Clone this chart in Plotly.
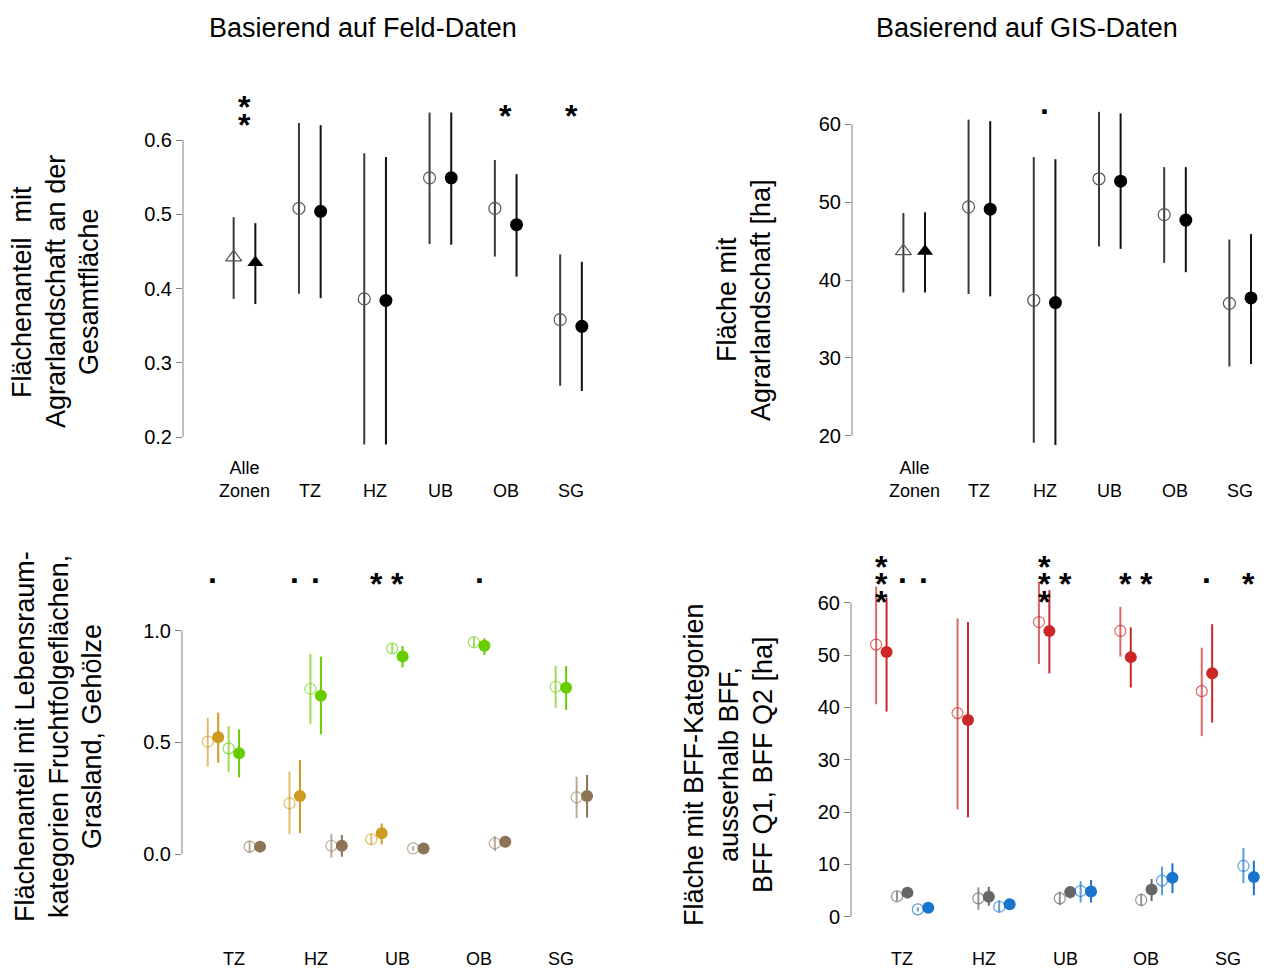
import plotly.graph_objects as go

# ---------------- data ----------------
zones_top = ["Alle<br>Zonen", "TZ", "HZ", "UB", "OB", "SG"]
zones_bot = ["TZ", "HZ", "UB", "OB", "SG"]

# top-left: Flächenanteil mit Agrarlandschaft (Feld-Daten)
feld_open_mean = [0.442, 0.508, 0.386, 0.549, 0.508, 0.358]
feld_open_lo = [0.386, 0.393, 0.190, 0.460, 0.443, 0.269]
feld_open_hi = [0.496, 0.623, 0.582, 0.637, 0.573, 0.446]
feld_fill_mean = [0.435, 0.504, 0.384, 0.549, 0.486, 0.349]
feld_fill_lo = [0.379, 0.387, 0.190, 0.459, 0.416, 0.262]
feld_fill_hi = [0.488, 0.620, 0.577, 0.637, 0.554, 0.436]
feld_sig = ["**", "", "", "", "*", "*"]

# top-right: Fläche mit Agrarlandschaft [ha] (GIS-Daten)
gis_open_mean = [43.7, 49.4, 37.4, 53.0, 48.4, 37.0]
gis_open_lo = [38.4, 38.2, 19.1, 44.3, 42.2, 28.9]
gis_open_hi = [48.6, 60.6, 55.8, 61.6, 54.5, 45.2]
gis_fill_mean = [43.7, 49.1, 37.1, 52.7, 47.7, 37.7]
gis_fill_lo = [38.4, 37.9, 18.8, 44.0, 41.0, 29.2]
gis_fill_hi = [48.7, 60.4, 55.5, 61.4, 54.5, 45.9]
gis_sig = ["", "", ".", "", "", ""]

# bottom-left: Fruchtfolgeflächen (orange), Grasland (green), Gehölze (brown)
ff_open_mean = [0.503, 0.227, 0.066, None, None]
ff_open_lo = [0.391, 0.088, 0.040, None, None]
ff_open_hi = [0.610, 0.369, 0.090, None, None]
ff_fill_mean = [0.523, 0.260, 0.093, None, None]
ff_fill_lo = [0.409, 0.093, 0.043, None, None]
ff_fill_hi = [0.633, 0.421, 0.137, None, None]
gr_open_mean = [0.473, 0.739, 0.921, 0.948, 0.749]
gr_open_lo = [0.367, 0.582, 0.900, 0.925, 0.655]
gr_open_hi = [0.573, 0.896, 0.942, 0.972, 0.842]
gr_fill_mean = [0.451, 0.709, 0.884, 0.933, 0.745]
gr_fill_lo = [0.343, 0.536, 0.836, 0.891, 0.645]
gr_fill_hi = [0.558, 0.884, 0.931, 0.966, 0.842]
gh_open_mean = [0.033, 0.037, 0.025, 0.048, 0.254]
gh_open_lo = [0.005, -0.016, 0.015, 0.013, 0.160]
gh_open_hi = [0.060, 0.090, 0.035, 0.080, 0.346]
gh_fill_mean = [0.033, 0.037, 0.025, 0.055, 0.260]
gh_fill_lo = [0.015, -0.012, 0.015, 0.030, 0.163]
gh_fill_hi = [0.050, 0.085, 0.035, 0.080, 0.354]
ff_sig = [".", ".", "*", "", ""]
gr_sig = ["", ".", "*", ".", ""]
gh_sig = ["", "", "", "", ""]

# bottom-right: ausserhalb BFF (red), BFF Q1 (gray), BFF Q2 (blue)
ab_open_mean = [52.0, 38.9, 56.3, 54.6, 43.1]
ab_open_lo = [40.6, 20.5, 48.3, 49.7, 34.5]
ab_open_hi = [63.1, 57.0, 64.0, 59.2, 51.4]
ab_fill_mean = [50.6, 37.6, 54.6, 49.6, 46.5]
ab_fill_lo = [39.2, 19.0, 46.5, 43.8, 37.1]
ab_fill_hi = [61.0, 56.3, 62.4, 55.3, 55.9]
q1_open_mean = [3.9, 3.5, 3.5, 3.2, None]
q1_open_lo = [3.0, 1.3, 2.2, 2.0, None]
q1_open_hi = [4.9, 5.6, 4.8, 4.4, None]
q1_fill_mean = [4.6, 3.8, 4.7, 5.2, None]
q1_fill_lo = [3.6, 2.1, 3.5, 3.0, None]
q1_fill_hi = [5.4, 5.7, 5.8, 7.2, None]
q2_open_mean = [1.4, 1.9, 4.9, 6.9, 9.7]
q2_open_lo = [1.0, 0.8, 2.7, 4.1, 6.4]
q2_open_hi = [1.8, 3.1, 6.8, 9.6, 13.1]
q2_fill_mean = [1.7, 2.4, 4.8, 7.45, 7.6]
q2_fill_lo = [1.2, 1.5, 2.7, 4.5, 4.1]
q2_fill_hi = [2.2, 3.2, 7.0, 10.2, 10.7]
ab_sig = ["***", "", "***", "*", "."]
q1_sig = [".", "", "*", "*", ""]
q2_sig = [".", "", "", "", "*"]

ticks_tl = [0.2, 0.3, 0.4, 0.5, 0.6]
ticks_tr = [20, 30, 40, 50, 60]
ticks_bl = [0.0, 0.5, 1.0]
ticks_br = [0, 10, 20, 30, 40, 50, 60]

# ---------------- layout helpers ----------------
W, H = 1280, 969
FONT = "Liberation Sans, Arial, sans-serif"
AXC = "#808080"


def xdom(a, b):
    return [a / W, b / W]


def ydom(top, bottom):
    return [1 - bottom / H, 1 - top / H]


def rng(p0, p1, ref_px, ref_val, px_per_unit, flip=False):
    if flip:  # y axis: pixel grows downward
        return [ref_val - (p1 - ref_px) / px_per_unit, ref_val + (ref_px - p0) / px_per_unit]
    return [ref_val + (p0 - ref_px) / px_per_unit, ref_val + (p1 - ref_px) / px_per_unit]


# panel geometry (pixels)
P = {
    1: dict(xd=(183, 600), yd=(95, 455), cx0=244.5, cdx=65.3, ya=(140, 0.6), ypu=(437 - 140) / 0.4),
    2: dict(xd=(852, 1270), yd=(95, 455), cx0=914.2, cdx=65.2, ya=(124.3, 60), ypu=(435.7 - 124.3) / 40),
    3: dict(xd=(182, 600), yd=(560, 940), cx0=233.9, cdx=81.75, ya=(854, 0.0), ypu=(854 - 630.7) / 1.0),
    4: dict(xd=(851, 1270), yd=(550, 940), cx0=902.2, cdx=81.4, ya=(916.7, 0), ypu=(916.7 - 602.7) / 60),
}

fig = go.Figure()


def add_series(panel, offset, mean, lo, hi, color, filled, symbol="circle", size=12, lcolor=None):
    xs, ys, ep, em = [], [], [], []
    for i, m in enumerate(mean):
        if m is None:
            continue
        xs.append(i + offset)
        ys.append(m)
        ep.append(hi[i] - m)
        em.append(m - lo[i])
    sym = symbol if filled else symbol + "-open"
    fig.add_trace(go.Scatter(
        x=xs, y=ys, mode="markers",
        xaxis="x" if panel == 1 else f"x{panel}",
        yaxis="y" if panel == 1 else f"y{panel}",
        marker=dict(symbol=sym, size=size, color=color,
                    line=dict(width=1.2 if not filled else 0, color=color)),
        error_y=dict(type="data", symmetric=False, array=ep, arrayminus=em,
                     width=0, thickness=2, color=lcolor or color),
        showlegend=False, hoverinfo="skip", cliponaxis=False,
    ))


# top panels
TOFF = 0.166
add_series(1, -TOFF, feld_open_mean[:1], feld_open_lo[:1], feld_open_hi[:1], "#555555", False, "triangle-up", 14, "#3a3a3a")
add_series(1, TOFF, feld_fill_mean[:1], feld_fill_lo[:1], feld_fill_hi[:1], "#000000", True, "triangle-up", 14, "#111111")
add_series(1, -TOFF, [None] + feld_open_mean[1:], feld_open_lo, feld_open_hi, "#555555", False, "circle", 12, "#3a3a3a")
add_series(1, TOFF, [None] + feld_fill_mean[1:], feld_fill_lo, feld_fill_hi, "#000000", True, "circle", 13, "#111111")

add_series(2, -TOFF, gis_open_mean[:1], gis_open_lo[:1], gis_open_hi[:1], "#555555", False, "triangle-up", 14, "#3a3a3a")
add_series(2, TOFF, gis_fill_mean[:1], gis_fill_lo[:1], gis_fill_hi[:1], "#000000", True, "triangle-up", 14, "#111111")
add_series(2, -TOFF, [None] + gis_open_mean[1:], gis_open_lo, gis_open_hi, "#555555", False, "circle", 12, "#3a3a3a")
add_series(2, TOFF, [None] + gis_fill_mean[1:], gis_fill_lo, gis_fill_hi, "#000000", True, "circle", 13, "#111111")

# bottom panels
OFFS = [-0.32, -0.192, -0.064, 0.064, 0.192, 0.32]
ORANGE, GREEN, BROWN = "#CD9B1D", "#66CD00", "#8B7355"
ORANGE_L, GREEN_L, BROWN_L = "rgba(205,155,29,0.65)", "rgba(102,205,0,0.65)", "rgba(139,115,85,0.6)"
RED, GRAY, BLUE = "#CD2626", "#666666", "#1874CD"
RED_L, GRAY_L, BLUE_L = "rgba(205,38,38,0.7)", "rgba(102,102,102,0.7)", "rgba(24,116,205,0.7)"

add_series(3, OFFS[0], ff_open_mean, ff_open_lo, ff_open_hi, ORANGE_L, False, size=11)
add_series(3, OFFS[1], ff_fill_mean, ff_fill_lo, ff_fill_hi, ORANGE, True, size=12)
add_series(3, OFFS[2], gr_open_mean, gr_open_lo, gr_open_hi, GREEN_L, False, size=11)
add_series(3, OFFS[3], gr_fill_mean, gr_fill_lo, gr_fill_hi, GREEN, True, size=12)
add_series(3, OFFS[4], gh_open_mean, gh_open_lo, gh_open_hi, BROWN_L, False, size=11)
add_series(3, OFFS[5], gh_fill_mean, gh_fill_lo, gh_fill_hi, BROWN, True, size=12)

add_series(4, OFFS[0], ab_open_mean, ab_open_lo, ab_open_hi, RED_L, False, size=11)
add_series(4, OFFS[1], ab_fill_mean, ab_fill_lo, ab_fill_hi, RED, True, size=12)
add_series(4, OFFS[2], q1_open_mean, q1_open_lo, q1_open_hi, GRAY_L, False, size=11)
add_series(4, OFFS[3], q1_fill_mean, q1_fill_lo, q1_fill_hi, GRAY, True, size=12)
add_series(4, OFFS[4], q2_open_mean, q2_open_lo, q2_open_hi, BLUE_L, False, size=11)
add_series(4, OFFS[5], q2_fill_mean, q2_fill_lo, q2_fill_hi, BLUE, True, size=12)

# ---------------- axes ----------------
layout = dict(width=W, height=H, margin=dict(l=0, r=0, t=0, b=0),
              paper_bgcolor="white", plot_bgcolor="white",
              font=dict(family=FONT, color="black"))
ticksets = {1: ticks_tl, 2: ticks_tr, 3: ticks_bl, 4: ticks_br}
tickfmt = {1: "{:.1f}", 2: "{:d}", 3: "{:.1f}", 4: "{:d}"}
shapes, annotations = [], []
for k, g in P.items():
    xn = "xaxis" if k == 1 else f"xaxis{k}"
    yn = "yaxis" if k == 1 else f"yaxis{k}"
    xr = rng(g["xd"][0], g["xd"][1], g["cx0"], 0, g["cdx"])
    yr = rng(g["yd"][0], g["yd"][1], g["ya"][0], g["ya"][1], g["ypu"], flip=True)
    layout[xn] = dict(domain=xdom(*g["xd"]), range=xr, visible=False, fixedrange=True,
                      anchor="y" if k == 1 else f"y{k}")
    tv = ticksets[k]
    layout[yn] = dict(domain=ydom(*g["yd"]), range=yr, showgrid=False, zeroline=False,
                      showline=False, ticks="outside", ticklen=6, tickwidth=1, tickcolor=AXC,
                      tickvals=tv, ticktext=[tickfmt[k].format(v) for v in tv],
                      tickfont=dict(size=20, family=FONT), fixedrange=True,
                      anchor="x" if k == 1 else f"x{k}")
    yref = "y" if k == 1 else f"y{k}"
    xref = "x" if k == 1 else f"x{k}"
    shapes.append(dict(type="line", xref=f"{xref} domain", yref=yref, x0=0, x1=0,
                       y0=tv[0], y1=tv[-1], line=dict(color=AXC, width=1)))

# category labels
for i, lab in enumerate(zones_top):
    for k in (1, 2):
        annotations.append(dict(text=lab, x=i, xref="x" if k == 1 else "x2", y=1 - 503 / H, yref="paper",
                                xanchor="center", yanchor="bottom", showarrow=False,
                                font=dict(size=18, family=FONT)))
for i, lab in enumerate(zones_bot):
    for k in (3, 4):
        annotations.append(dict(text=lab, x=i, xref=f"x{k}", y=1 - 959 / H, yref="paper",
                                xanchor="center", yanchor="middle", showarrow=False,
                                font=dict(size=18, family=FONT)))

# significance markers
STAR_DY = 17.5


def add_sig(panel, labels, offset, row_px):
    xref = "x" if panel == 1 else f"x{panel}"
    for i, s in enumerate(labels):
        if not s:
            continue
        n = len(s)
        for j, ch in enumerate(s):
            py = row_px + (j - (n - 1) / 2) * STAR_DY
            shift = -3 if ch == "*" else 9
            annotations.append(dict(text=f"<b>{ch}</b>", x=i + offset, xref=xref, y=1 - py / H, yref="paper",
                                    xanchor="center", yanchor="middle", showarrow=False,
                                    yshift=shift,
                                    font=dict(size=32, family=FONT, color="black")))


add_sig(1, feld_sig, 0.0, 113)
add_sig(2, gis_sig, 0.0, 112)
pair = [(OFFS[0] + OFFS[1]) / 2, 0.0, (OFFS[4] + OFFS[5]) / 2]
add_sig(3, ff_sig, pair[0], 581)
add_sig(3, gr_sig, pair[1], 581)
add_sig(3, gh_sig, pair[2], 581)
add_sig(4, ab_sig, pair[0], 581)
add_sig(4, q1_sig, pair[1], 581)
add_sig(4, q2_sig, pair[2], 581)

# titles
annotations.append(dict(text="Basierend auf Feld-Daten", x=363 / W, y=1 - 28 / H, xref="paper", yref="paper",
                        xanchor="center", yanchor="middle", showarrow=False, font=dict(size=27, family=FONT)))
annotations.append(dict(text="Basierend auf GIS-Daten", x=1027 / W, y=1 - 28 / H, xref="paper", yref="paper",
                        xanchor="center", yanchor="middle", showarrow=False, font=dict(size=27, family=FONT)))

# y axis titles (one annotation per line)
ytitles = [
    (["Flächenanteil\u00a0 mit", "Agrarlandschaft an der", "Gesamtfläche"], [22, 56, 89], 292),
    (["Fläche mit", "Agrarlandschaft [ha]"], [727, 761], 300),
    (["Flächenanteil mit Lebensraum-", "kategorien Fruchtfolgeflächen,", "Grasland, Gehölze"], [25, 59, 92], 737),
    (["Fläche mit BFF-Kategorien", "ausserhalb BFF,", "BFF Q1, BFF Q2 [ha]"], [694, 729, 763], 765),
]
for lines, xs, yc in ytitles:
    for t, xc in zip(lines, xs):
        annotations.append(dict(text=t, x=xc / W, y=1 - yc / H, xref="paper", yref="paper",
                                xanchor="center", yanchor="middle", textangle=-90, showarrow=False,
                                font=dict(size=27, family=FONT)))

layout["shapes"] = shapes
layout["annotations"] = annotations
fig.update_layout(**layout)
fig.write_html("out.html", config={"displayModeBar": False},
               post_script="document.body.style.margin='0';document.body.style.overflow='hidden';")
